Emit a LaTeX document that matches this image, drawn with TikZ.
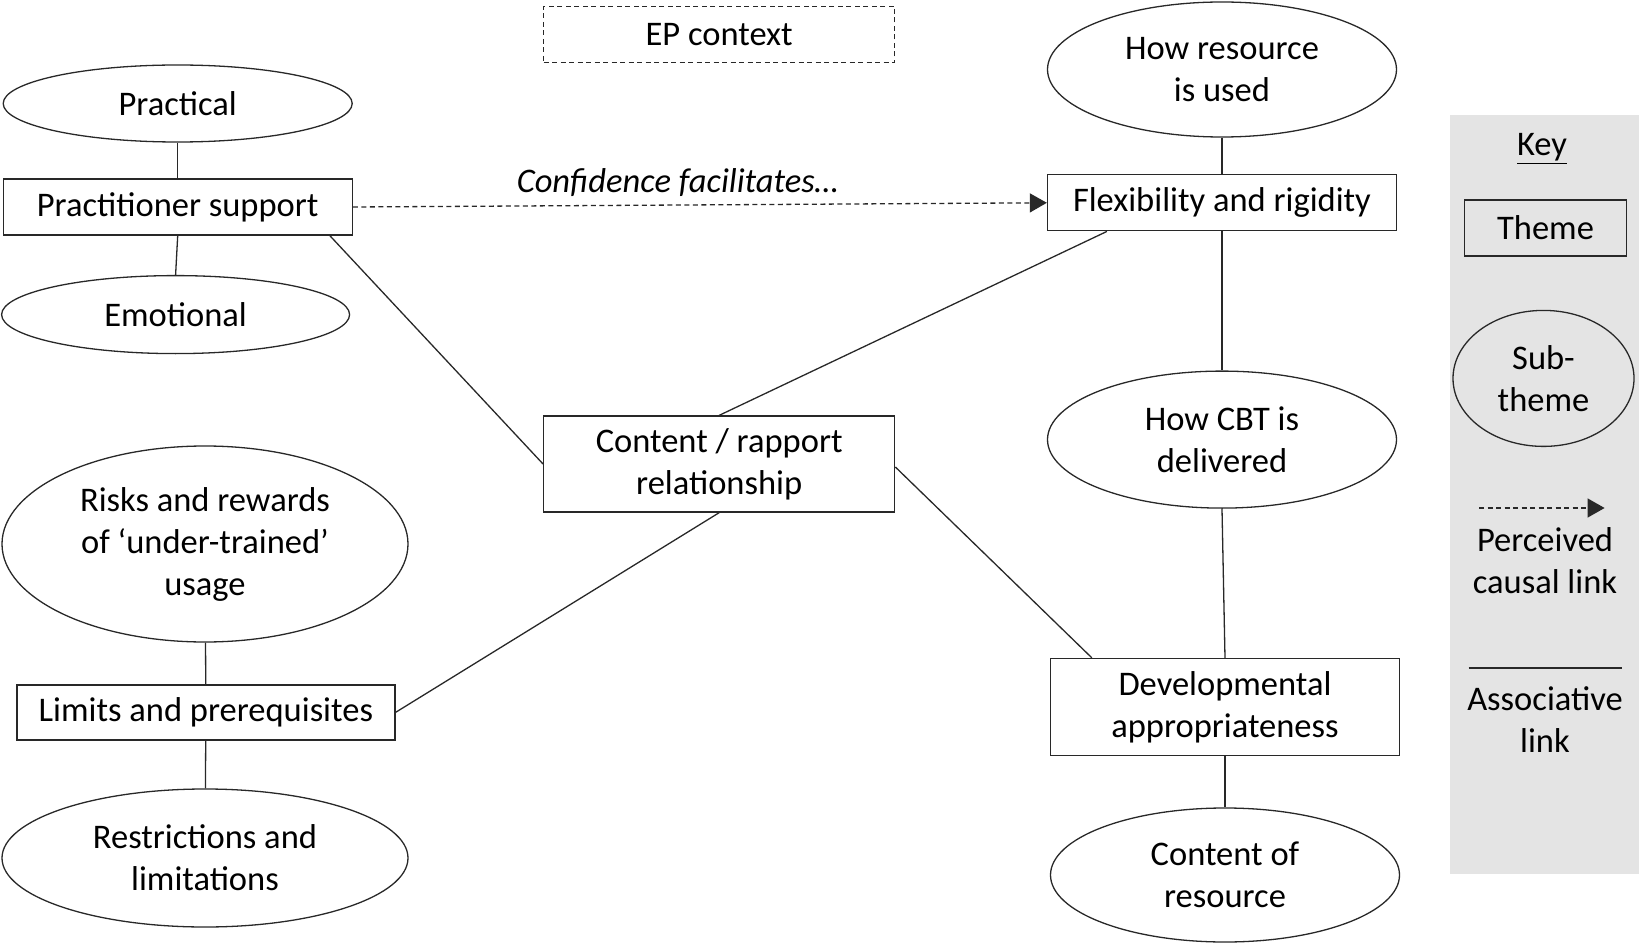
\documentclass[tikz,border=0pt]{standalone}
\usepackage{fontspec}
\setmainfont{Carlito}
\usetikzlibrary{shapes.geometric,arrows.meta,calc}
\definecolor{keygray}{RGB}{228,228,228}
\definecolor{linecol}{RGB}{40,40,40}
\begin{document}
\begin{tikzpicture}[x=1pt,y=-1pt,
  every node/.style={font=\fontsize{34.5}{42}\selectfont, text=black, align=center},
  theme/.style={draw=linecol, line width=1.3pt, rectangle, inner sep=0pt},
  subtheme/.style={draw=linecol, line width=1.3pt, ellipse, inner sep=0pt},
  assoc/.style={draw=linecol, line width=1.3pt},
  causal/.style={draw=linecol, line width=1.3pt, dash pattern=on 5pt off 3.5pt, -{Triangle[length=17pt,width=19pt]}}]
\useasboundingbox (0,0) rectangle (1639,944);
% key panel
\fill[keygray] (1450,115) rectangle (1639,874);
% theme boxes
\node[theme, dash pattern=on 5pt off 3.5pt, minimum width=351pt, minimum height=56pt] (ep) at (719.2,34.5) {EP context};
\node[theme, minimum width=349pt, minimum height=56pt] (ps) at (177.7,207) {Practitioner support};
\node[theme, minimum width=349pt, minimum height=56pt] (fr) at (1222,202.8) {Flexibility and rigidity};
\node[theme, minimum width=351pt, minimum height=96pt] (cr) at (719.2,464) {Content / rapport\\relationship};
\node[theme, minimum width=378pt, minimum height=55pt] (lim) at (205.9,712.4) {Limits and prerequisites};
\node[theme, minimum width=349pt, minimum height=97pt] (dev) at (1225,707) {Developmental\\appropriateness};
% sub-themes
\node[subtheme, minimum width=349pt, minimum height=77pt] (prac) at (177.7,103.5) {Practical};
\node[subtheme, minimum width=348pt, minimum height=78pt] (emo) at (175.6,314.6) {Emotional};
\node[subtheme, minimum width=406pt, minimum height=196pt] (risk) at (205,544) {Risks and rewards\\of ‘under-trained’\\usage};
\node[subtheme, minimum width=406pt, minimum height=138pt] (restr) at (205,858) {Restrictions and\\limitations};
\node[subtheme, minimum width=349pt, minimum height=135pt] (hru) at (1222,69.5) {How resource\\is used};
\node[subtheme, minimum width=349pt, minimum height=137pt] (hcbt) at (1222,439.6) {How CBT is\\delivered};
\node[subtheme, minimum width=349pt, minimum height=134pt] (cor) at (1225,875) {Content of\\resource};
% connectors
\draw[assoc] (prac) -- (ps);
\draw[assoc] (ps.south) -- (emo.north);
\draw[assoc] (risk) -- (lim);
\draw[assoc] (lim) -- (restr);
\draw[assoc] (hru) -- (fr);
\draw[assoc] (fr) -- (hcbt);
\draw[assoc] (hcbt.south) -- (dev.north);
\draw[assoc] (dev) -- (cor);
\draw[assoc] ($(ps.south east)+(-23,0)$) -- (cr.west);
\draw[assoc] ($(fr.south west)+(60,0)$) -- (cr.north);
\draw[assoc] (cr.south) -- (lim.east);
\draw[assoc] ($(cr.east)+(0,3)$) -- ($(dev.north west)+(42,0)$);
\draw[causal] (ps.east) -- node[above=4pt, font=\fontsize{34.5}{42}\selectfont\itshape, pos=0.468] (conf) {Confidence facilitates…} (fr.west);
% key
\node (keyt) at (1542,148.5) {\underline{Key}};
\node[theme, minimum width=162pt, minimum height=56pt] (kth) at (1545.5,228) {Theme};
\node[subtheme, minimum width=181pt, minimum height=136pt] (ksub) at (1543.5,378.4) {Sub-\\theme};
\coordinate (ka1) at (1479,508);
\coordinate (ka2) at (1604.6,508);
\draw[causal] (ka1) -- (ka2);
\node (kcaus) at (1545,561) {Perceived\\causal link};
\coordinate (kb1) at (1468.7,668);
\coordinate (kb2) at (1622.3,668);
\draw[assoc] (kb1) -- (kb2);
\node (kass) at (1545,720) {Associative\\link};
\end{tikzpicture}
\end{document}
